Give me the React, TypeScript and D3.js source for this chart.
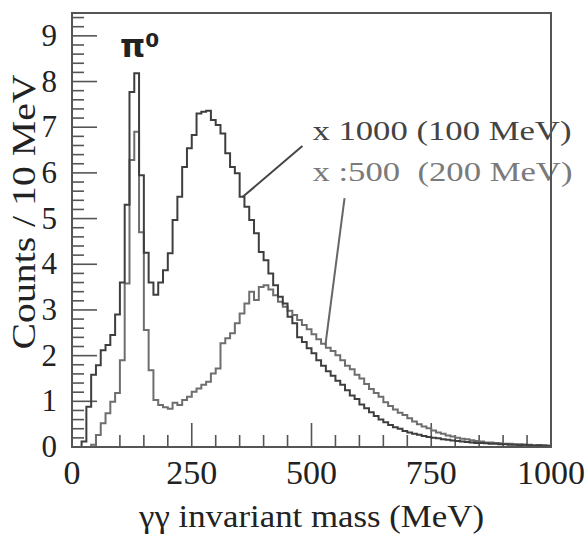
import React, { useEffect, useRef } from "react";
import * as d3 from "d3";

// bin lower edges in MeV (10 MeV bins)
const binEdges = d3.range(0, 1000, 10);

// x1000, 100 MeV photon threshold (dark histogram)
const counts100 = [
  0, 0, 0.12, 0.88, 1.58, 1.79, 2.12, 2.23, 2.45, 2.9,
  3.6, 5.3, 7.77, 8.18, 5.95, 4.25, 3.6, 3.33, 3.6, 3.87,
  4.24, 4.97, 5.48, 6.13, 6.54, 6.83, 7.3, 7.34, 7.36, 7.16,
  7.05, 6.86, 6.43, 6.13, 5.99, 5.48, 5.26, 4.97, 4.68, 4.27,
  4.09, 3.8, 3.54, 3.29, 3.14, 2.85, 2.71, 2.4, 2.3, 2.16,
  2.05, 1.9, 1.78, 1.66, 1.56, 1.45, 1.36, 1.24, 1.13, 1.05,
  0.93, 0.85, 0.76, 0.68, 0.6, 0.54, 0.48, 0.43, 0.4, 0.35,
  0.32, 0.29, 0.27, 0.24, 0.22, 0.2, 0.19, 0.17, 0.16, 0.14,
  0.13, 0.12, 0.11, 0.1, 0.09, 0.09, 0.08, 0.07, 0.07, 0.06,
  0.06, 0.05, 0.05, 0.04, 0.05, 0.04, 0.03, 0.04, 0.03, 0.03,
];

// x500, 200 MeV photon threshold (grey histogram)
const counts200 = [
  0, 0, 0, 0, 0.05, 0.26, 0.52, 0.74, 0.99, 1.18,
  1.9, 3.58, 6.28, 6.9, 4.7, 2.56, 1.68, 1.03, 0.92, 0.87,
  0.84, 0.97, 0.92, 1.03, 1.1, 1.21, 1.28, 1.36, 1.43, 1.61,
  1.72, 2.27, 2.38, 2.49, 2.71, 2.92, 3.14, 3.4, 3.22, 3.5,
  3.54, 3.45, 3.32, 3.18, 3.07, 2.98, 2.89, 2.78, 2.67, 2.58,
  2.47, 2.36, 2.26, 2.17, 2.1, 2.01, 1.9, 1.78, 1.7, 1.58,
  1.5, 1.38, 1.27, 1.18, 1.1, 0.98, 0.9, 0.82, 0.75, 0.7,
  0.63, 0.56, 0.5, 0.45, 0.41, 0.36, 0.32, 0.29, 0.25, 0.23,
  0.2, 0.18, 0.17, 0.15, 0.13, 0.12, 0.1, 0.1, 0.09, 0.08,
  0.07, 0.07, 0.06, 0.06, 0.05, 0.05, 0.04, 0.04, 0.04, 0.03,
];

const xMajorTicks = [0, 250, 500, 750, 1000];
const yMajorTicks = [0, 1, 2, 3, 4, 5, 6, 7, 8, 9];

const labels = [
  { text: "x 1000 (100 MeV)", x: 502, y: 6.72, color: "#444", len: 259 },
  { text: "x :500  (200 MeV)", x: 502, y: 5.82, color: "#7a7a7a", len: 260 },
];

// leader lines, in data units: [x1, y1, x2, y2]
const leaders = [
  { pts: [481, 6.59, 356, 5.47], color: "#444" },
  { pts: [569, 5.45, 529, 2.23], color: "#666" },
];

const App = () => {
  const ref = useRef<SVGSVGElement>(null);

  useEffect(() => {
    const svg = d3.select(ref.current);
    svg.selectAll("*").remove();

    const width = 587;
    const height = 536;
    const margin = { top: 13, right: 36, bottom: 89, left: 72 };

    const x = d3.scaleLinear().domain([0, 1000]).range([margin.left, width - margin.right]);
    const y = d3.scaleLinear().domain([0, 9.5]).range([height - margin.bottom, margin.top]);

    svg.append("rect").attr("width", width).attr("height", height).attr("fill", "white");

    const serif = "'Liberation Serif', 'Times New Roman', serif";

    // ticks (inside the frame)
    const g = svg.append("g").attr("stroke", "#555").attr("stroke-width", 1.6);
    d3.range(0, 1001, 50).forEach((v) => {
      const major = v % 250 === 0;
      g.append("line")
        .attr("x1", x(v)).attr("x2", x(v))
        .attr("y1", y(0)).attr("y2", y(0) - (major ? 24 : 12));
    });
    d3.range(0, 48).map((i) => i * 0.2).forEach((v) => {
      const major = Math.abs(v - Math.round(v)) < 1e-6;
      g.append("line")
        .attr("y1", y(v)).attr("y2", y(v))
        .attr("x1", x(0)).attr("x2", x(0) + (major ? 25 : 12));
    });

    // histograms
    const line = d3
      .line<[number, number]>()
      .x((d) => x(d[0]))
      .y((d) => y(d[1]))
      .curve(d3.curveStepAfter);

    const series = [
      { values: counts200, color: "#6e6e6e" },
      { values: counts100, color: "#3e3e3e" },
    ];
    series.forEach((s) => {
      const pts: [number, number][] = binEdges.map((e, i) => [e, s.values[i]]);
      pts.push([1000, s.values[s.values.length - 1]]);
      svg.append("path")
        .attr("d", line(pts))
        .attr("fill", "none")
        .attr("stroke", s.color)
        .attr("stroke-width", 2);
    });

    // leader lines
    leaders.forEach((l) => {
      svg.append("line")
        .attr("x1", x(l.pts[0])).attr("y1", y(l.pts[1]))
        .attr("x2", x(l.pts[2])).attr("y2", y(l.pts[3]))
        .attr("stroke", l.color)
        .attr("stroke-width", 2);
    });

    // annotation labels
    labels.forEach((l) => {
      svg.append("text")
        .attr("x", x(l.x))
        .attr("y", y(l.y))
        .attr("fill", l.color)
        .attr("font-family", serif)
        .attr("font-size", 28)
        .attr("textLength", l.len)
        .attr("lengthAdjust", "spacingAndGlyphs")
        .style("white-space", "pre")
        .text(l.text);
    });

    // pi0 label
    const pi = svg.append("text")
      .attr("x", x(100))
      .attr("y", 57)
      .attr("fill", "#222")
      .attr("font-family", "'DejaVu Sans', sans-serif")
      .attr("font-weight", "bold");
    pi.append("tspan").attr("font-size", 32).text("π");
    pi.append("tspan").attr("font-size", 20).attr("dy", -10).text("0");

    // frame
    svg.append("rect")
      .attr("x", x(0)).attr("y", y(9.5))
      .attr("width", x(1000) - x(0))
      .attr("height", y(0) - y(9.5))
      .attr("fill", "none")
      .attr("stroke", "#555")
      .attr("stroke-width", 2);

    // tick labels
    xMajorTicks.forEach((v) => {
      svg.append("text")
        .attr("x", x(v))
        .attr("y", 484)
        .attr("text-anchor", "middle")
        .attr("fill", "#222")
        .attr("font-family", serif)
        .attr("font-size", 34)
        .text(v);
    });
    yMajorTicks.forEach((v) => {
      svg.append("text")
        .attr("x", 57)
        .attr("y", y(v) + 10)
        .attr("text-anchor", "end")
        .attr("fill", "#222")
        .attr("font-family", serif)
        .attr("font-size", 31)
        .text(v);
    });

    // axis titles
    svg.append("text")
      .attr("x", (x(0) + x(1000)) / 2)
      .attr("y", 527)
      .attr("text-anchor", "middle")
      .attr("fill", "#222")
      .attr("font-family", serif)
      .attr("font-size", 32)
      .attr("textLength", 345)
      .attr("lengthAdjust", "spacingAndGlyphs")
      .text("γγ invariant mass (MeV)");

    svg.append("text")
      .attr("transform", `translate(35,${212}) rotate(-90)`)
      .attr("text-anchor", "middle")
      .attr("fill", "#222")
      .attr("font-family", serif)
      .attr("font-size", 34)
      .attr("textLength", 275)
      .attr("lengthAdjust", "spacingAndGlyphs")
      .text("Counts / 10 MeV");
  }, []);

  return (
    <svg
      ref={ref}
      width={587}
      height={536}
      style={{ position: "absolute", left: 0, top: 0, display: "block" }}
    />
  );
};

export default App;
